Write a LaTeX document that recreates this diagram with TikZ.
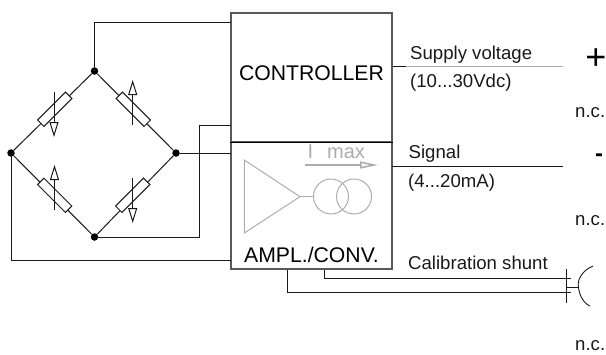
\documentclass[tikz,border=0pt]{standalone}
\usepackage{fontspec}
\setmainfont{Liberation Sans}
\usetikzlibrary{arrows.meta}
\definecolor{boxgray}{gray}{0.35}
\definecolor{symgray}{gray}{0.68}
\definecolor{wiregray}{gray}{0.1}
\tikzset{
  wire/.style={draw=wiregray,line width=1pt},
  junction/.style={circle,fill=black,minimum size=7.5pt,inner sep=0pt},
  resistor/.style={draw=wiregray,fill=white,line width=1pt,minimum width=39.5pt,minimum height=9pt,inner sep=0pt},
  sense/.style={draw=wiregray,line width=1pt,-{Triangle[open,length=15pt,width=9pt]}},
  blockbox/.style={draw=boxgray,line width=1.2pt,minimum width=161pt,inner sep=0pt},
  lbl/.style={anchor=base west,inner sep=0pt,font=\fontsize{18.6}{20}\selectfont,text=black!90},
  blocklbl/.style={anchor=base,inner sep=0pt,font=\fontsize{21.2}{23}\selectfont,text=black},
  sym/.style={draw=symgray,line width=1pt},
}
\begin{document}
\begin{tikzpicture}[x=1pt,y=-1pt]
\useasboundingbox (0,0) rectangle (606,354);
% blocks
\node[blockbox,minimum height=129pt] (ctrl) at (311.5,77.5) {};
\node[blockbox,minimum height=127pt] (ampl) at (311.5,205.5) {};
\draw[draw=black,line width=1.3pt] (ctrl.south west) -- (ctrl.south east);
% bridge junctions
\node[junction] (jt) at (94.5,71) {};
\node[junction] (jl) at (11,153) {};
\node[junction] (jr) at (176,153) {};
\node[junction] (jb) at (94.5,237) {};
% bridge arms
\draw[wire] (jt) -- (jl) -- (jb) -- (jr) -- (jt);
\node[resistor,rotate=45] (r1) at (54.7,109.3) {};
\node[resistor,rotate=-45] (r2) at (133.3,109.3) {};
\node[resistor,rotate=-45] (r3) at (54.7,195.3) {};
\node[resistor,rotate=45] (r4) at (132.7,195.3) {};
% sense arrows
\coordinate (a1s) at (54,92); \coordinate (a1e) at (54,137);
\coordinate (a2s) at (132.7,125); \coordinate (a2e) at (132.7,80);
\coordinate (a3s) at (54.5,210); \coordinate (a3e) at (54.5,165);
\coordinate (a4s) at (132.7,178); \coordinate (a4e) at (132.7,223);
\draw[sense] (a1s) -- (a1e);
\draw[sense] (a2s) -- (a2e);
\draw[sense] (a3s) -- (a3e);
\draw[sense] (a4s) -- (a4e);
% bridge to blocks
\coordinate (ctop) at (231,22);
\coordinate (cmid) at (231,125.7);
\coordinate (amid) at (231,153);
\coordinate (alow) at (231,260);
\coordinate (kink) at (199,125.7);
\draw[wire] (jt.center) |- (ctop);
\draw[wire] (jr) -- (amid);
\draw[wire] (jb.center) -| (kink) -- (cmid);
\draw[wire] (jl.center) |- (alow);
% amplifier symbol
\coordinate (t1) at (244.3,160);
\coordinate (t2) at (244.3,233);
\coordinate (t3) at (300,196.7);
\coordinate (t4) at (313.3,196.7);
\draw[sym] (t1) -- (t2) -- (t3) -- cycle;
\draw[sym] (t3) -- (t4);
\node[circle,sym,minimum size=35pt,inner sep=0pt] (c1) at (331,196.5) {};
\node[circle,sym,minimum size=35pt,inner sep=0pt] (c2) at (354,196.5) {};
\node[anchor=base west,inner sep=0pt,text=symgray,font=\fontsize{20}{22}\selectfont] (imax) at (307.5,158.5) {I\hspace{13.9pt}max};
\coordinate (ia) at (305,165); \coordinate (ib) at (378,165);
\draw[draw=symgray,line width=1.6pt,-{Triangle[open,length=18pt,width=7pt]}] (ia) -- (ib);
% block labels
\node[blocklbl] (tc) at (311.5,80) {CONTROLLER};
\node[blocklbl] (ta) at (311.5,262) {AMPL./CONV.};
% outputs
\coordinate (s1) at (406,66.3); \coordinate (s2) at (563,66.3);
\coordinate (g1) at (392,166); \coordinate (g2) at (563,166);
\draw[wire] (ctrl.east |- s1) -- (s1);
\draw[draw=symgray,line width=1pt] (s1) -- (s2);
\draw[wire] (g1) -- (g2);
\node[lbl] (l1) at (410,59) {Supply voltage};
\node[lbl] (l2) at (410,87) {(10...30Vdc)};
\node[lbl] (l3) at (408.5,158) {Signal};
\node[lbl] (l4) at (408,187) {(4...20mA)};
\node[lbl] (l5) at (408,269) {Calibration shunt};
\node[lbl] (n1) at (575,117) {n.c.};
\node[lbl] (n2) at (575,225) {n.c.};
\node[lbl] (n3) at (575,350) {n.c.};
\node[inner sep=0pt,font=\fontsize{36}{38}\selectfont] (plus) at (596,59) {+};
\node[inner sep=0pt,font=\fontsize{24}{26}\selectfont\bfseries] (minus) at (599,158) {-};
% calibration shunt connector
\coordinate (b1) at (324,278); \coordinate (b2) at (571,278);
\coordinate (b3) at (287,292); \coordinate (b4) at (571,292);
\draw[wire] (ampl.south -| b1) |- (b2);
\draw[wire] (ampl.south -| b3) |- (b4);
\coordinate (v1) at (566,269); \coordinate (v2) at (566,303);
\coordinate (h1) at (578.5,287);
\coordinate (arc1) at (593,266); \coordinate (arc2) at (590,306);
\draw[wire] (v1) -- (v2);
\draw[wire] (v1 |- h1) -- (h1);
\draw[draw=wiregray,line width=0.9pt] (arc1) .. controls (581,271) and (577,281) .. (h1) .. controls (579,294) and (583,303) .. (arc2);
\end{tikzpicture}
\end{document}
